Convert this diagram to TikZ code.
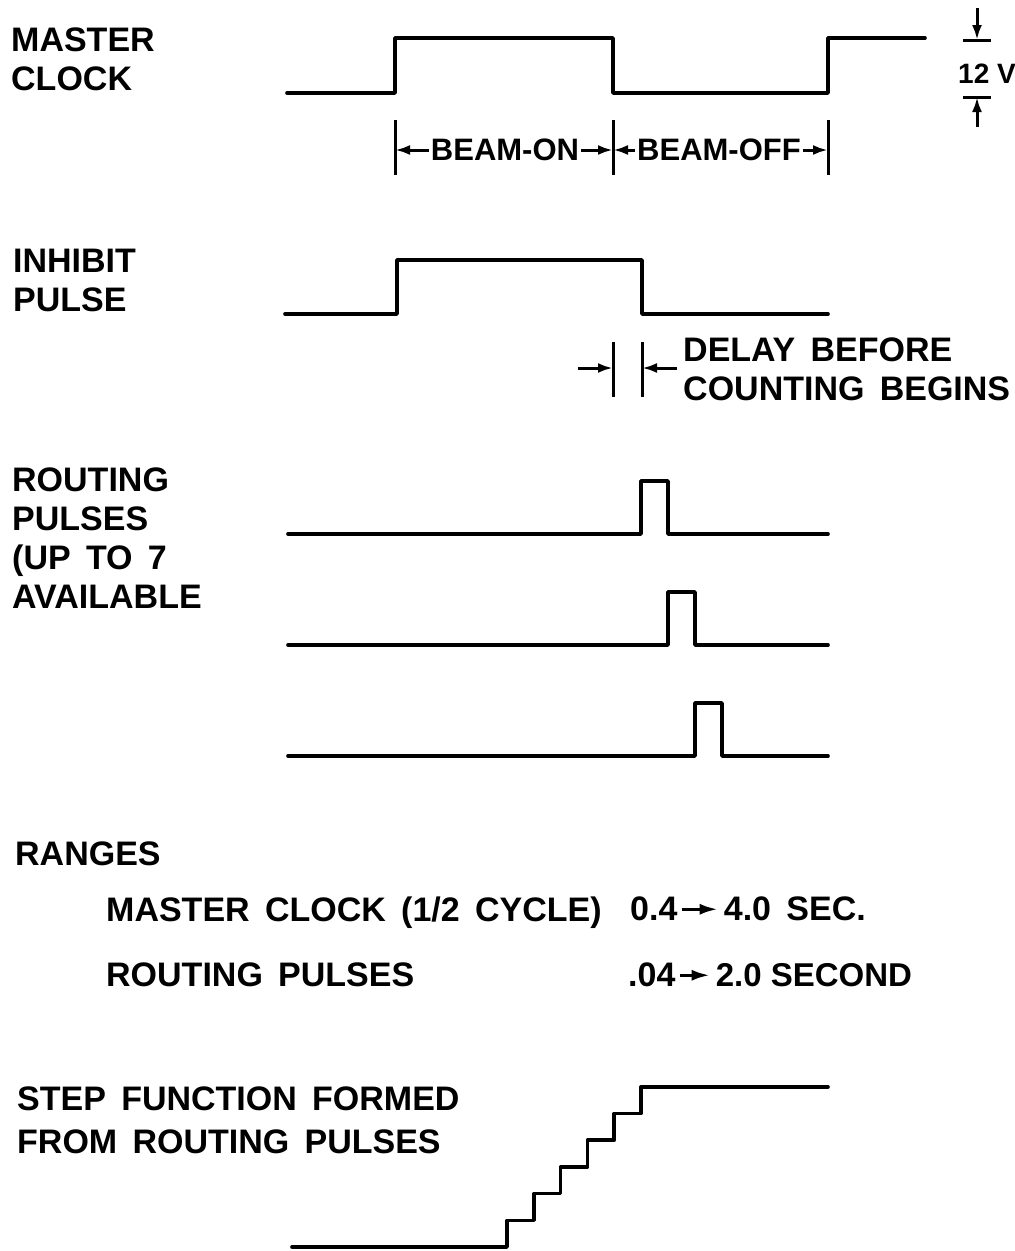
\documentclass[tikz,border=0pt]{standalone}
\usepackage{fontspec}
\setmainfont{Liberation Sans}
\usetikzlibrary{arrows.meta, positioning}
\newcommand{\sigfont}{\fontsize{34}{39}\selectfont\bfseries\spaceskip=0.45em\relax}

\begin{document}
\begin{tikzpicture}[
  x=1pt, y=-1pt,
  wave/.style={line width=3.6pt, line join=round, line cap=round},
  dimtick/.style={line width=3pt},
  dimarrow/.style={-{Latex[length=15pt,width=10pt]}, line width=3pt},
  sigtext/.style={font=\sigfont, align=left, anchor=north west, inner sep=0pt},
  dimtext/.style={font=\fontsize{31}{36}\selectfont\bfseries, inner sep=2pt}
]
  \useasboundingbox (0,0) rectangle (1015,1251);

  % labels on the left
  \node[sigtext] (mclabel) at (11,28) {MASTER\\CLOCK};
  \node[sigtext] (inhlabel) at (13,249) {INHIBIT\\PULSE};
  \node[sigtext] (routlabel) at (12,468) {ROUTING\\PULSES\\(UP TO 7\\AVAILABLE};

  % master clock
  \draw[wave] (287,93) -- (395,93) -- (395,38) -- (613,38) -- (613,93) -- (828,93) -- (828,38) -- (925,38);

  % 12 V amplitude
  \coordinate (vtop) at (977,8);
  \coordinate (vhi) at (977,40);
  \coordinate (vlo) at (977,97);
  \coordinate (vbot) at (977,127);
  \draw[dimtick] (963,40) -- (991,40);
  \draw[dimtick] (963,97) -- (991,97);
  \draw[dimarrow] (vtop) -- (vhi);
  \draw[dimarrow] (vbot) -- (vlo);
  \node[font=\fontsize{28}{32}\selectfont\bfseries, inner sep=0pt] (volts) at (987,74) {12 V};

  % beam-on / beam-off
  \foreach \x in {395,613,828}
    \draw[dimtick] (\x,120) -- (\x,175);
  \coordinate (ton) at (395,150);
  \coordinate (tmid) at (613,150);
  \coordinate (toff) at (828,150);
  \node[dimtext] (beamon) at (505,150) {BEAM-ON};
  \node[dimtext] (beamoff) at (719,150) {BEAM-OFF};
  \draw[dimarrow] (beamon.west) -- (ton);
  \draw[dimarrow] (beamon.east) -- (tmid);
  \draw[dimarrow] (beamoff.west) -- (tmid);
  \draw[dimarrow] (beamoff.east) -- (toff);

  % inhibit pulse
  \draw[wave] (285,314) -- (397,314) -- (397,260) -- (642,260) -- (642,314) -- (828,314);

  % delay before counting
  \draw[dimtick] (613,342) -- (613,397);
  \draw[dimtick] (642,342) -- (642,397);
  \coordinate (dleft) at (578,368);
  \coordinate (dend1) at (613,368);
  \coordinate (dright) at (677,368);
  \coordinate (dend2) at (642,368);
  \draw[dimarrow] (dleft) -- (dend1);
  \draw[dimarrow] (dright) -- (dend2);
  \node[sigtext] (delay) at (683,338) {DELAY BEFORE\\COUNTING BEGINS};

  % routing pulses
  \foreach \i in {0,1,2}
    \draw[wave] (288,{534+111*\i}) -- ({641+27*\i},{534+111*\i}) -- ({641+27*\i},{481+111*\i})
      -- ({668+27*\i},{481+111*\i}) -- ({668+27*\i},{534+111*\i}) -- (828,{534+111*\i});

  % ranges
  \node[sigtext] (ranges) at (15,842) {RANGES};
  \node[sigtext] (mcname) at (106,897) {MASTER CLOCK (1/2 CYCLE)};
  \node[sigtext] (mcmin) at (630,897) {0.4};
  \node[sigtext, right=46pt of mcmin] (mcmax) {4.0 SEC.};
  \draw[dimarrow, -{Latex[length=18pt,width=11pt]}, shorten <=4pt, shorten >=6pt] (mcmin) -- (mcmax);
  \node[sigtext] (rpname) at (106,963) {ROUTING PULSES};
  \node[sigtext] (rpmin) at (628,963) {.04};
  \node[sigtext, font=\fontsize{33}{38}\selectfont\bfseries, right=40pt of rpmin] (rpmax) {2.0 SECOND};
  \draw[dimarrow, -{Latex[length=18pt,width=11pt]}, shorten <=4pt, shorten >=6pt] (rpmin) -- (rpmax);

  % step function
  \node[sigtext] (steplabel) at (17,1087) {STEP FUNCTION FORMED\\[4pt]FROM ROUTING PULSES};
  \draw[wave] (292,1247) foreach \k in {0,...,5} {
      -- ({507+26.8*\k},{1247-26.7*\k}) -- ({507+26.8*\k},{1247-26.7*(\k+1)}) }
    -- (828,{1247-26.7*6});
\end{tikzpicture}
\end{document}
